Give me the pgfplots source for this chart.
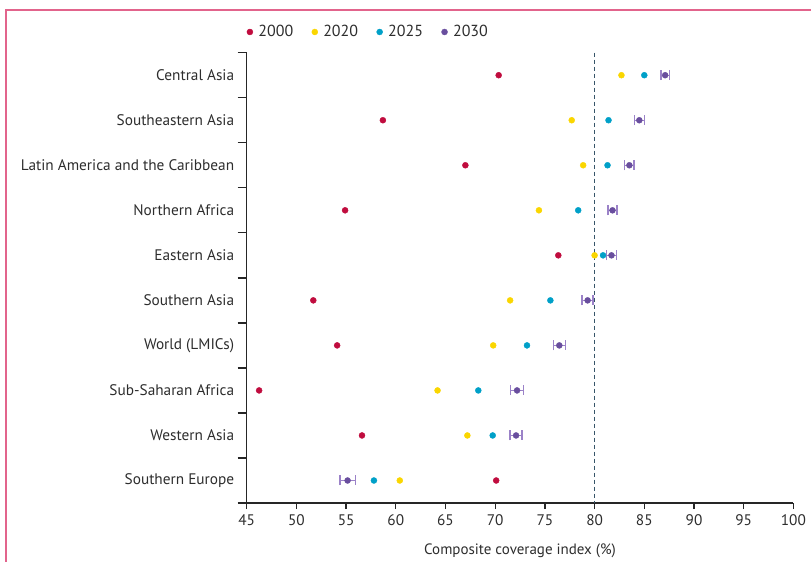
\documentclass[border=0pt]{standalone}
\usepackage{pgfplots}
\usepackage{pgfplotstable}
\pgfplotsset{compat=1.18}
\usepackage{fontspec}
\setmainfont{PT Sans}

\definecolor{c2000}{RGB}{192,12,62}
\definecolor{c2020}{RGB}{250,214,0}
\definecolor{c2025}{RGB}{0,160,200}
\definecolor{c2030}{RGB}{105,78,158}
\definecolor{c2030bar}{RGB}{155,130,200}
\definecolor{framecol}{RGB}{226,100,140}
\definecolor{guide}{RGB}{55,85,105}
\definecolor{txt}{RGB}{45,45,45}

% y: 0 = Central Asia (top) ... 9 = Southern Europe (bottom)
\pgfplotstableread{
y  a     b      c      d      e
0  70.35 82.70  85.00  87.10  0.42
1  58.70 77.70  81.40  84.50  0.50
2  67.00 78.85  81.30  83.50  0.47
3  54.90 74.40  78.35  81.80  0.45
4  76.35 80.00  80.85  81.70  0.50
5  51.70 71.50  75.55  79.30  0.55
6  54.10 69.80  73.20  76.45  0.60
7  46.25 64.20  68.30  72.20  0.65
8  56.60 67.20  69.75  72.10  0.60
9  70.10 60.40  57.80  55.15  0.78
}\data

\begin{document}
\begin{tikzpicture}[x=1pt,y=1pt]
\path[use as bounding box] (0,0) rectangle (811,562);
\draw[framecol, line width=2pt] (6,0) -- (6,552) -- (812,552);
\begin{axis}[
  at={(246.7pt,59pt)}, anchor=south west, scale only axis,
  width=546.7pt, height=450.3pt,
  xmin=45, xmax=100, ymin=-0.5, ymax=9.5, y dir=reverse,
  axis x line*=bottom, axis y line*=left,
  axis line style={-, black!85, line width=1.4pt},
  xtick={45,50,...,100},
  ytick={0,...,9},
  yticklabels={Central Asia, Southeastern Asia, Latin America and the Caribbean,
    Northern Africa, Eastern Asia, Southern Asia, World (LMICs),
    Sub-Saharan Africa, Western Asia, Southern Europe},
  minor ytick={-0.5,0.5,...,9.5},
  major y tick style={draw=none},
  tick align=outside,
  major tick length=6pt, minor tick length=9pt,
  tick style={black!85, line width=1.3pt},
  tick label style={font=\fontsize{15.3}{18}\selectfont, text=txt},
  xticklabel style={yshift=-2.5pt},
  yticklabel style={xshift=-3pt},
  /pgf/number format/assume math mode=true,
  xlabel={Composite coverage index (\%)},
  label style={font=\fontsize{15}{18}\selectfont, text=txt},
  xlabel style={yshift=-11pt},
  clip=false,
  legend columns=-1,
  legend style={at={(0,1.046)}, anchor=west, draw=none, fill=none,
    inner sep=0pt, font=\fontsize{16}{18}\selectfont, text=txt,
    nodes={inner sep=1pt},
    /tikz/every odd column/.style={column sep=4.5pt},
    /tikz/every even column/.style={column sep=17.5pt}},
  legend image code/.code={\draw[#1] plot coordinates {(0pt,0pt)};},
]
\addplot[guide, line width=1.3pt, dash pattern=on 4pt off 3pt, forget plot]
  coordinates {(80,-0.5) (80,9.5)};
\addplot[only marks, mark=*, mark size=3pt, c2000] table[x=a, y=y] {\data};
\addplot[only marks, mark=*, mark size=3pt, c2020] table[x=b, y=y] {\data};
\addplot[only marks, mark=*, mark size=3pt, c2025] table[x=c, y=y] {\data};
\addplot[only marks, mark=*, mark size=3pt, c2030,
  error bars/.cd, x dir=both, x explicit,
  error bar style={c2030bar, line width=1.2pt},
  error mark options={rotate=90, c2030bar, mark size=5pt, line width=1.4pt}]
  table[x=d, y=y, x error=e] {\data};
\legend{2000, 2020, 2025, 2030}
\end{axis}
\end{tikzpicture}
\end{document}
